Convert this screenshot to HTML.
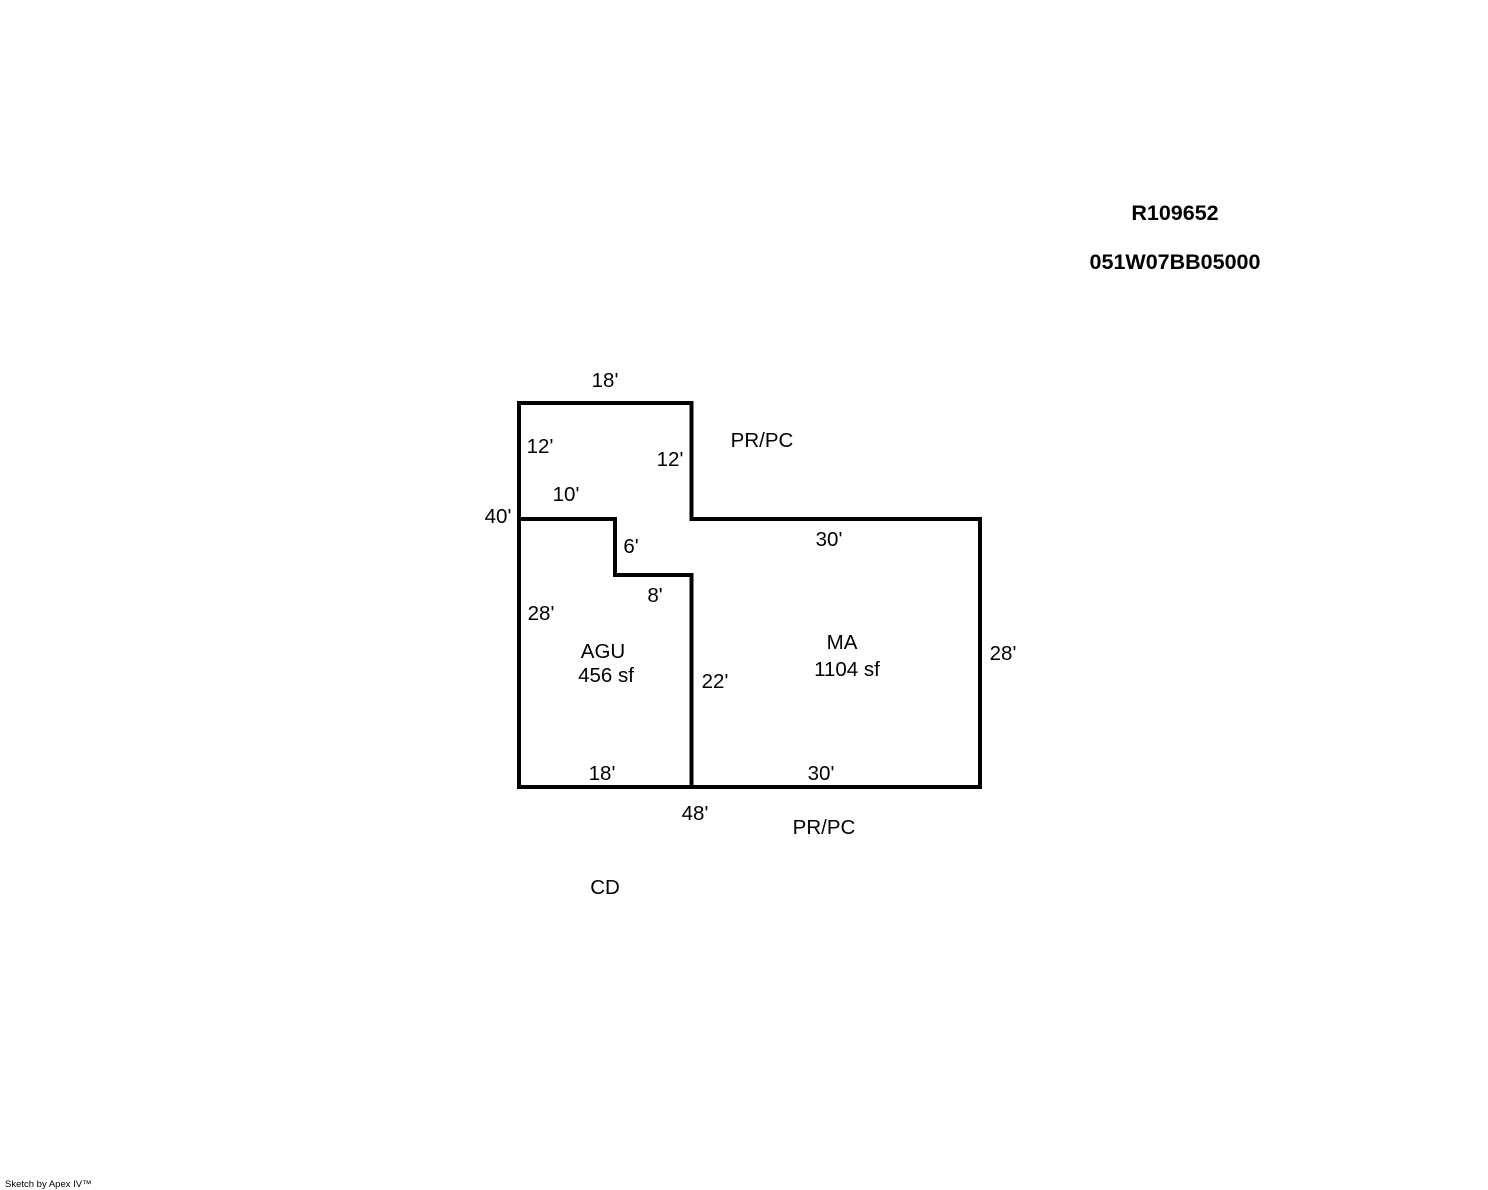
<!DOCTYPE html>
<html><head><meta charset="utf-8"><style>
html,body{margin:0;padding:0;background:#fff;}
svg{display:block;}
text{font-family:"Liberation Sans",Arial,sans-serif;font-size:20.5px;fill:#000;}
</style></head><body>
<svg width="1488" height="1190" viewBox="0 0 1488 1190" xmlns="http://www.w3.org/2000/svg">
<g fill="none" stroke="#000" stroke-width="4" stroke-linejoin="miter" stroke-linecap="square">
<polygon points="519,403 691.5,403 691.5,519 980,519 980,787 519,787"/>
<polyline points="519,519 615,519 615,575 691.5,575 691.5,787"/>
</g>
<g text-anchor="middle">
<text x="605" y="387">18'</text>
<text x="540" y="453">12'</text>
<text x="670" y="466">12'</text>
<text x="762" y="447">PR/PC</text>
<text x="566" y="501">10'</text>
<text x="498" y="523">40'</text>
<text x="631" y="553">6'</text>
<text x="829" y="546">30'</text>
<text x="655" y="602">8'</text>
<text x="541" y="620">28'</text>
<text x="603" y="658">AGU</text>
<text x="606" y="682">456 sf</text>
<text x="842" y="649">MA</text>
<text x="847" y="676">1104 sf</text>
<text x="1003" y="660">28'</text>
<text x="715" y="688">22'</text>
<text x="602" y="780">18'</text>
<text x="821" y="780">30'</text>
<text x="695" y="820">48'</text>
<text x="824" y="834">PR/PC</text>
<text x="605" y="894">CD</text>
<text x="1175" y="220" font-weight="bold" style="font-size:21.5px">R109652</text>
<text x="1175" y="269" font-weight="bold" style="font-size:21.5px">051W07BB05000</text>
</g>
<text x="5" y="1187" style="font-size:9.5px">Sketch by Apex IV™</text>
</svg>
</body></html>
